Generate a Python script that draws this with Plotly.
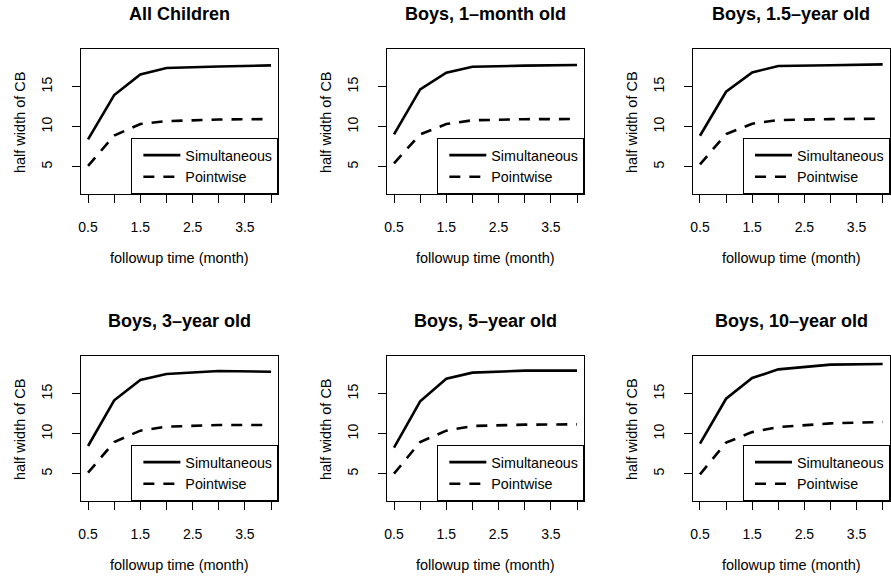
import plotly.graph_objects as go

W, H = 891, 579

titles = ["All Children", "Boys, 1–month old", "Boys, 1.5–year old",
          "Boys, 3–year old", "Boys, 5–year old", "Boys, 10–year old"]
followup = [0.5, 1, 1.5, 2, 3, 4]
simultaneous = [
    [8.42, 13.96, 16.54, 17.33, 17.52, 17.67],
    [9.04, 14.67, 16.75, 17.50, 17.63, 17.71],
    [8.87, 14.37, 16.79, 17.58, 17.68, 17.79],
    [8.46, 14.17, 16.71, 17.46, 17.83, 17.75],
    [8.25, 14.04, 16.88, 17.63, 17.88, 17.88],
    [8.75, 14.37, 16.96, 18.04, 18.63, 18.71],
]
pointwise = [
    [5.10, 8.90, 10.33, 10.70, 10.90, 10.96],
    [5.42, 9.04, 10.33, 10.80, 10.94, 10.96],
    [5.29, 9.08, 10.37, 10.83, 10.95, 11.00],
    [5.13, 8.96, 10.38, 10.88, 11.08, 11.08],
    [5.00, 8.96, 10.38, 10.96, 11.13, 11.17],
    [4.92, 8.88, 10.20, 10.83, 11.29, 11.46],
]
x_tickvals = [0.5, 1, 1.5, 2, 2.5, 3, 3.5, 4]
x_ticktext = ["0.5", "", "1.5", "", "2.5", "", "3.5", ""]
y_tickvals = [5, 10, 15]

FONT = "Liberation Sans, Arial, Helvetica, sans-serif"

# pixel layout of the plot boxes
col_px = [(79, 277.3), (386, 584.3), (693, 891)]
row_px = [(49.3, 194.3), (356.3, 501.3)]

def px_x(p):
    return p / W

def px_y(p):
    return 1 - p / H

fig = go.Figure()
layout = dict(
    width=W, height=H,
    margin=dict(l=0, r=0, t=0, b=0),
    paper_bgcolor="white", plot_bgcolor="white",
    font=dict(family=FONT, color="black", size=14),
    annotations=[],
)

for i in range(6):
    r, c = divmod(i, 3)
    xl, xr = col_px[c]
    yt, yb = row_px[r]
    xs = "" if i == 0 else str(i + 1)
    leg = "legend" if i == 0 else f"legend{i + 1}"

    fig.add_trace(go.Scatter(
        x=followup, y=simultaneous[i], mode="lines", name="Simultaneous",
        line=dict(color="black", width=2.6), xaxis="x" + xs, yaxis="y" + xs,
        legend=leg, showlegend=True))
    fig.add_trace(go.Scatter(
        x=followup, y=pointwise[i], mode="lines", name="Pointwise",
        line=dict(color="black", width=2.6, dash="11px,9px"),
        xaxis="x" + xs, yaxis="y" + xs, legend=leg, showlegend=True))

    layout["xaxis" + xs] = dict(
        domain=[px_x(xl), px_x(xr)], anchor="y" + xs, range=[0.36, 4.14],
        tickvals=x_tickvals, ticktext=x_ticktext, ticks="outside", ticklen=8,
        tickwidth=1, tickcolor="black", showgrid=False, zeroline=False,
        showline=True, mirror=True, linecolor="black", linewidth=1,
        tickfont=dict(size=14, family=FONT), ticklabelstandoff=12)
    layout["yaxis" + xs] = dict(
        domain=[px_y(yb), px_y(yt)], anchor="x" + xs, range=[1.55, 19.675],
        tickvals=y_tickvals, ticks="outside", ticklen=8, tickwidth=1,
        tickcolor="black", showgrid=False, zeroline=False, showline=True,
        mirror=True, linecolor="black", linewidth=1, tickangle=-90,
        tickfont=dict(size=14, family=FONT), ticklabelstandoff=14)
    layout[leg] = dict(
        x=px_x(xr), xanchor="right", y=px_y(yb), yanchor="bottom",
        xref="paper", yref="paper", bordercolor="black", borderwidth=1,
        bgcolor="white", font=dict(size=14.3, family=FONT),
        tracegroupgap=0, itemwidth=37, indentation=6)

    cx = (xl + xr) / 2
    layout["annotations"].append(dict(
        text=f"<b>{titles[i]}</b>", x=px_x(cx), y=px_y(yt - 35.3),
        xref="paper", yref="paper", xanchor="center", yanchor="middle",
        showarrow=False, font=dict(size=18, family=FONT)))
    layout["annotations"].append(dict(
        text="followup time (month)", x=px_x(cx), y=px_y(yb + 63.4),
        xref="paper", yref="paper", xanchor="center", yanchor="middle",
        showarrow=False, font=dict(size=14.5, family=FONT)))
    layout["annotations"].append(dict(
        text="half width of CB", x=px_x(xl - 60.7), y=px_y((yt + yb) / 2),
        xref="paper", yref="paper", xanchor="center", yanchor="middle",
        textangle=-90, showarrow=False, font=dict(size=14.5, family=FONT)))

fig.update_layout(**layout)
fig.write_html("out.html")
